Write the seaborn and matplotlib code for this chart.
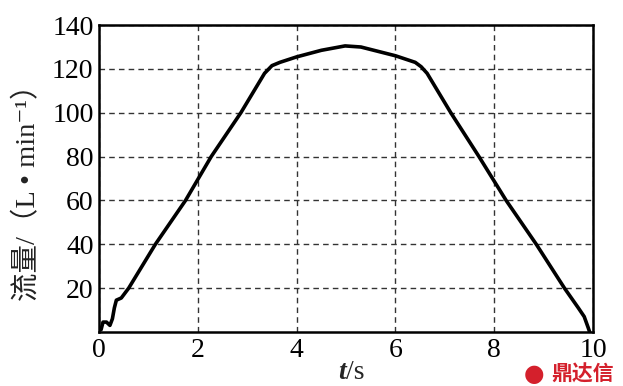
import matplotlib
matplotlib.use("Agg")
import matplotlib.pyplot as plt
import seaborn as sns
import pandas as pd

# data
t_s = [0.00, 0.04, 0.08, 0.15, 0.22, 0.27, 0.31, 0.35, 0.45, 0.55, 0.60,
       1.14, 1.75, 2.27, 2.87, 3.35, 3.50, 3.66, 4.00, 4.50, 4.98, 5.30, 6.00,
       6.40, 6.52, 6.64, 7.12, 7.69, 8.24, 8.85, 9.42, 9.70, 9.82, 9.90, 9.93]
flow = [2.0, 1.0, 4.5, 4.5, 3.0, 6.0, 11.0, 14.5, 15.5, 18.5, 20.0,
        40.0, 60.0, 80.0, 100.0, 118.0, 121.5, 123.0, 125.5, 128.5, 130.5, 130.0, 126.0,
        123.0, 121.0, 118.0, 100.0, 80.0, 60.0, 40.0, 20.0, 11.0, 7.0, 2.0, 0.0]

x_ticks = [0, 2, 4, 6, 8, 10]
y_ticks = [20, 40, 60, 80, 100, 120, 140]

df = pd.DataFrame({"t": t_s, "q": flow})

sns.set_theme(style="white")
plt.rcParams["font.family"] = ["Liberation Serif", "Noto Sans CJK SC", "DejaVu Sans"]

fig = plt.figure(figsize=(6.23, 3.86), dpi=100)
ax = fig.add_axes([0.159, 0.140, 0.793, 0.795])

sns.lineplot(data=df, x="t", y="q", ax=ax, color="black", linewidth=2.6,
             sort=False, estimator=None)

ax.set_xlim(0, 10)
ax.set_ylim(0, 140)
ax.set_xticks(x_ticks)
ax.set_yticks(y_ticks)
ax.set_xticklabels([str(v) for v in x_ticks], fontsize=20)
ax.set_yticklabels([str(v) for v in y_ticks], fontsize=20)
ax.tick_params(axis="both", length=0, pad=4, colors="black")

ax.grid(True, linestyle=(0, (4, 3)), color="#333333", linewidth=1.0)
for s in ax.spines.values():
    s.set_visible(True)
    s.set_color("black")
    s.set_linewidth(1.8)

ax.set_xlabel("")
ax.set_ylabel("")
fig.text(0.555, 0.035, "t", fontsize=20, style="italic", fontweight="bold",
         ha="right", va="center")
fig.text(0.555, 0.035, "/s", fontsize=20, ha="left", va="center")
fig.text(0.045, 0.52, "流量/（L • min⁻¹）", fontsize=20.5, rotation=90,
         ha="center", va="center",
         family=["Liberation Serif", "Noto Sans CJK SC", "DejaVu Sans"],
         color="#222222")

# watermark
fig.text(0.935, 0.030, "鼎达信", fontsize=15, fontweight="bold", color="#d4202c",
         ha="center", va="center", family=["Noto Sans CJK SC"])
fig.text(0.858, 0.030, "●", fontsize=17, color="#d4202c", ha="center", va="center",
         family=["DejaVu Sans"])

fig.savefig("out.png", dpi=100)
